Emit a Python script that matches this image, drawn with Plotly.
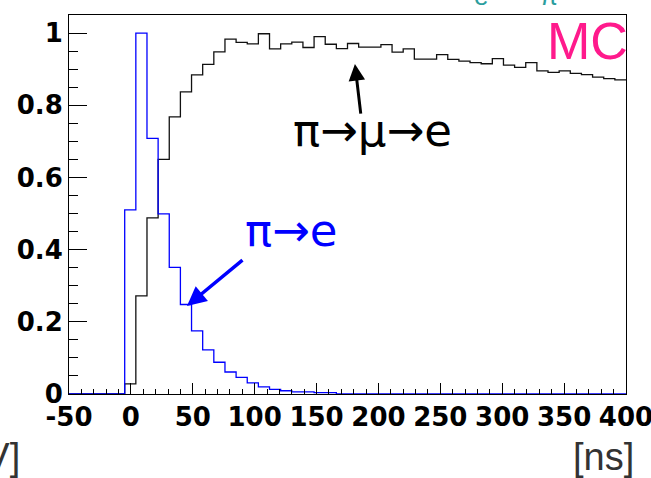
import numpy as np
import plotly.graph_objects as go

# ---- data (50 bins of 9 ns from -50 to 400 ns) ----
x_min = -50
x_max = 400
n_bins = 50

pi_mu_e = [0, 0, 0, 0, 0, 0.028, 0.272, 0.488, 0.650, 0.768,
           0.837, 0.884, 0.913, 0.948, 0.983, 0.974, 0.970, 0.998, 0.956, 0.970,
           0.975, 0.960, 0.990, 0.969, 0.957, 0.971, 0.961, 0.961, 0.968, 0.947,
           0.956, 0.928, 0.928, 0.940, 0.927, 0.922, 0.918, 0.915, 0.929, 0.911,
           0.905, 0.918, 0.895, 0.891, 0.895, 0.888, 0.885, 0.878, 0.874, 0.870]

pi_e = [0, 0, 0, 0, 0, 0.510, 1.000, 0.708, 0.499, 0.351,
        0.248, 0.175, 0.122, 0.088, 0.061, 0.046, 0.031, 0.020, 0.013, 0.009,
        0.006, 0.006, 0.004, 0.004, 0, 0, 0, 0, 0, 0,
        0, 0, 0, 0, 0, 0, 0, 0, 0, 0,
        0, 0, 0, 0, 0, 0, 0, 0, 0, 0]

x_tick_vals = [-50, 0, 50, 100, 150, 200, 250, 300, 350, 400]
x_tick_text = ["-50", "0", "50", "100", "150", "200", "250", "300", "350", "400"]
y_tick_vals = [0, 0.2, 0.4, 0.6, 0.8, 1.0]
y_tick_text = ["0", "0.2", "0.4", "0.6", "0.8", "1"]

edges = np.linspace(x_min, x_max, n_bins + 1)


def step(vals):
    xs = list(edges)
    ys = list(vals) + [vals[-1]]
    return xs, ys


fig = go.Figure()
xb, yb = step(pi_mu_e)
fig.add_trace(go.Scatter(x=xb, y=yb, mode="lines", line=dict(shape="hv", color="#111111", width=1.3),
                         showlegend=False, hoverinfo="skip"))
xe, ye = step(pi_e)
fig.add_trace(go.Scatter(x=xe, y=ye, mode="lines", line=dict(shape="hv", color="#0000ff", width=1.3),
                         showlegend=False, hoverinfo="skip"))

fig.update_layout(
    width=651, height=478,
    margin=dict(l=69, r=25, t=15, b=84, autoexpand=False),
    paper_bgcolor="white", plot_bgcolor="white",
    xaxis=dict(range=[x_min, x_max], tickvals=x_tick_vals, ticktext=x_tick_text,
               ticks="inside", ticklen=11, tickwidth=1, tickcolor="black",
               minor=dict(ticks="inside", ticklen=5, dtick=10, tick0=0, tickcolor="black", tickwidth=1),
               showline=True, linecolor="black", linewidth=1, mirror=True,
               showgrid=False, zeroline=False, ticklabeloverflow="allow", automargin=False,
               tickfont=dict(family="DejaVu Sans", size=26, color="black", weight="bold")),
    yaxis=dict(range=[0, 1.05], tickvals=y_tick_vals, ticktext=y_tick_text,
               ticks="inside", ticklen=18, tickwidth=1, tickcolor="black",
               minor=dict(ticks="inside", ticklen=9, dtick=0.05, tick0=0, tickcolor="black", tickwidth=1),
               showline=True, linecolor="black", linewidth=1, mirror=True,
               showgrid=False, zeroline=False, ticklabeloverflow="allow", automargin=False,
               tickfont=dict(family="DejaVu Sans", size=26, color="black", weight="bold")),
)

ann = []
# labels
ann.append(dict(x=195, y=0.73, xref="x", yref="y", text="π→μ→e", showarrow=False,
                font=dict(family="DejaVu Sans", size=45, color="black"), xanchor="center", yanchor="middle"))
ann.append(dict(x=129, y=0.452, xref="x", yref="y", text="π→e", showarrow=False,
                font=dict(family="DejaVu Sans", size=45, color="#0000ff"), xanchor="center", yanchor="middle"))
# arrows
ann.append(dict(x=181, y=0.914, xref="x", yref="y", ax=6, ay=51, axref="pixel", ayref="pixel",
                text="", showarrow=True, arrowhead=2, arrowsize=1.1, arrowwidth=3, arrowcolor="black"))
ann.append(dict(x=45.3, y=0.244, xref="x", yref="y", ax=57, ay=-47, axref="pixel", ayref="pixel",
                text="", showarrow=True, arrowhead=2, arrowsize=1.1, arrowwidth=3.5, arrowcolor="#0000ff"))
# MC
ann.append(dict(x=1, y=0.979, xref="paper", yref="y", text="MC", showarrow=False, xshift=4,
                font=dict(family="Liberation Sans", size=52, color="#ff1a8c"), xanchor="right", yanchor="middle"))
# cropped texts at top (only their lower parts are visible)
ann.append(dict(x=283, y=1.0053, xref="x", yref="paper", text="e", showarrow=False,
                font=dict(family="Liberation Sans", size=26, color="#2b9e9e"), xanchor="center", yanchor="bottom"))
ann.append(dict(x=338, y=1.0053, xref="x", yref="paper", text="π", showarrow=False,
                font=dict(family="Liberation Sans", size=26, color="#2b9e9e"), xanchor="center", yanchor="bottom"))
# axis units (cropped)
ann.append(dict(x=1, y=-0.165, xref="paper", yref="paper", text="[ns]", showarrow=False, xshift=10,
                font=dict(family="Liberation Sans", size=38, color="#333333"), xanchor="right", yanchor="middle"))
ann.append(dict(x=0, y=-0.165, xref="paper", yref="paper", text="[MeV]", showarrow=False, xshift=-47,
                font=dict(family="Liberation Sans", size=38, color="#333333"), xanchor="right", yanchor="middle"))
fig.update_layout(annotations=ann)

fig.write_html("out.html")
